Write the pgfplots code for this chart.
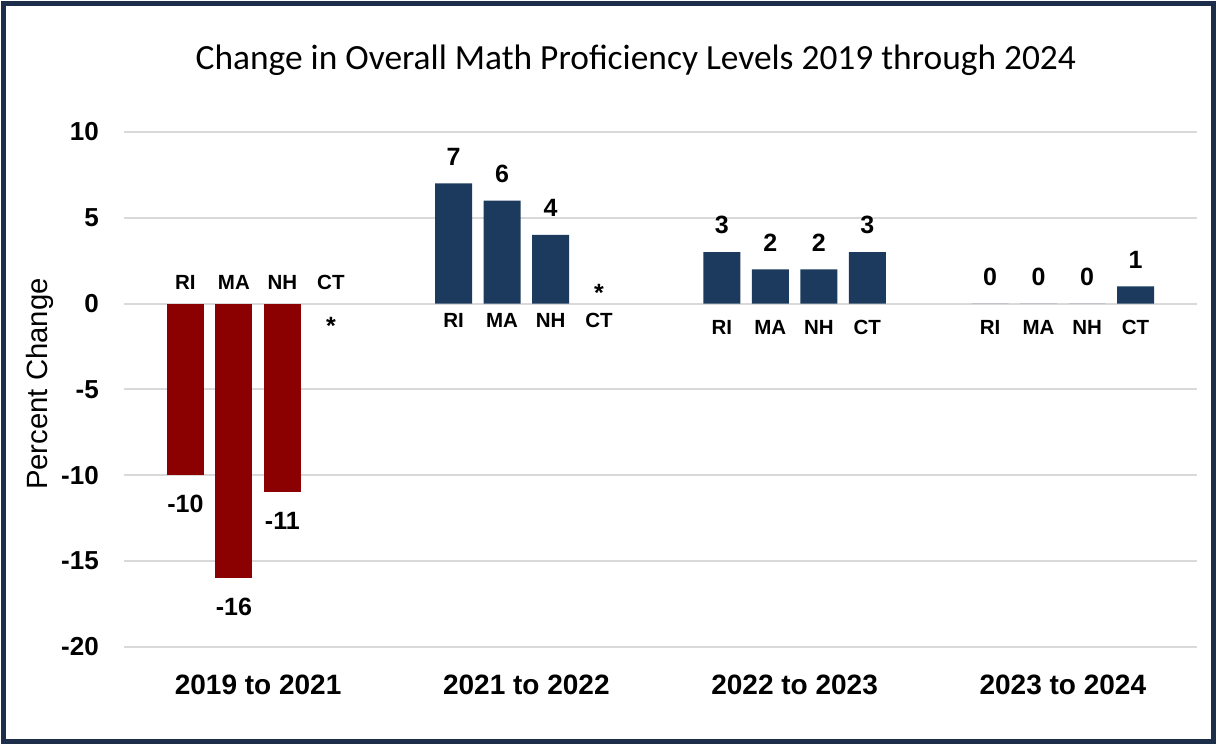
\documentclass[border=0pt]{standalone}
\usepackage{fontspec}
\setmainfont{Liberation Sans}
\newfontfamily\titlefont{Carlito}
\usepackage{pgfplots}
\usepackage{pgfplotstable}
\pgfplotsset{compat=1.18}

\definecolor{redbar}{HTML}{8B0000}
\definecolor{bluebar}{HTML}{1B3A5E}
\definecolor{framecol}{HTML}{1C2E4A}
\definecolor{gridgray}{HTML}{D9D9D9}

\newcommand\valfont{\bfseries\fontsize{25bp}{30bp}\selectfont}
\newcommand\stfont{\bfseries\fontsize{20.5bp}{24bp}\selectfont}

% values by period; nan = no data (shown as *)
\pgfplotstableread{
g RI MA NH CT
0 -10 -16 -11 nan
}\redtab
\pgfplotstableread{
g RI MA NH CT
1 7 6 4 nan
2 3 2 2 3
3 0 0 0 1
}\bluetab

% state labels: shift from group centre (bp), vertical offset from zero line (bp)
\pgfplotstableread{
g xs dy lbl
0 -72.75 21 RI
0 -24.25 21 MA
0 24.25 21 NH
0 72.75 21 CT
1 -72.75 -17 RI
1 -24.25 -17 MA
1 24.25 -17 NH
1 72.75 -17 CT
2 -72.75 -24 RI
2 -24.25 -24 MA
2 24.25 -24 NH
2 72.75 -24 CT
3 -72.75 -24 RI
3 -24.25 -24 MA
3 24.25 -24 NH
3 72.75 -24 CT
}\labtab
\pgfplotstableread{
g xs dy lbl
0 72.75 -22 *
1 72.75 10.5 *
}\startab

\pgfplotsset{
  bars/.style={ybar, bar width=37bp, draw=none, point meta=explicit symbolic,
    nodes near coords, nodes near coords style={font=\valfont, inner sep=0pt, text=black}},
  neg/.style={bars, fill=redbar, bar shift=#1,
    nodes near coords style={anchor=north, yshift=-20bp, xshift=#1}},
  pos/.style={bars, fill=bluebar, bar shift=#1,
    nodes near coords style={anchor=south, yshift=18bp, xshift=#1}},
  labels/.style={only marks, mark=none, point meta=explicit symbolic, nodes near coords,
    visualization depends on={\thisrow{xs} \as \xs},
    visualization depends on={\thisrow{dy} \as \dy},
    nodes near coords style={anchor=center, inner sep=0pt, text=black, xshift=\xs bp, yshift=\dy bp}},
}

\begin{document}
\begin{tikzpicture}
\path[use as bounding box] (0,0) rectangle (1217bp,745bp);
\draw[framecol, line width=4.5bp] (3.5bp,3.5bp) rectangle (1213.5bp,741.5bp);
\begin{axis}[
    at={(124bp,98bp)}, anchor=south west,
    scale only axis, width=1073bp, height=515bp,
    xmin=-0.5, xmax=3.5, ymin=-20, ymax=10,
    xtick={0,1,2,3},
    xticklabels={2019 to 2021, 2021 to 2022, 2022 to 2023, 2023 to 2024},
    ytick={-20,-15,-10,-5,0,5,10},
    yticklabels={-20,-15,-10,-5,0,5,10},
    ymajorgrids, grid style={gridgray, line width=2bp},
    axis line style={draw=none}, major tick length=0pt,
    xticklabel style={font=\bfseries\fontsize{28bp}{32bp}\selectfont, anchor=north, inner sep=0pt, yshift=-28bp},
    yticklabel style={font=\bfseries\fontsize{26bp}{30bp}\selectfont, anchor=east, inner sep=0pt, xshift=-25bp},
    ylabel={Percent Change},
    ylabel style={at={(axis description cs:-0.0783,0.5107)}, anchor=center, inner sep=0pt, font=\fontsize{29.3bp}{34bp}\selectfont},
    title={Change in Overall Math Proficiency Levels 2019 through 2024},
    title style={at={(axis description cs:0.477,1)}, anchor=base, yshift=57bp, font=\titlefont\fontsize{35.4bp}{40bp}\selectfont},
    clip=false,
]
\addplot[neg=-72.75bp] table[x=g, y=RI, meta=RI] {\redtab};
\addplot[neg=-24.25bp] table[x=g, y=MA, meta=MA] {\redtab};
\addplot[neg=24.25bp] table[x=g, y=NH, meta=NH] {\redtab};
\addplot[neg=72.75bp] table[x=g, y=CT, meta=CT] {\redtab};
\addplot[pos=-72.75bp] table[x=g, y=RI, meta=RI] {\bluetab};
\addplot[pos=-24.25bp] table[x=g, y=MA, meta=MA] {\bluetab};
\addplot[pos=24.25bp] table[x=g, y=NH, meta=NH] {\bluetab};
\addplot[pos=72.75bp] table[x=g, y=CT, meta=CT] {\bluetab};
\addplot[labels, nodes near coords style={font=\stfont}] table[x=g, y expr=0, meta=lbl] {\labtab};
\addplot[labels, nodes near coords style={font=\valfont}] table[x=g, y expr=0, meta=lbl] {\startab};
\end{axis}
\end{tikzpicture}
\end{document}
